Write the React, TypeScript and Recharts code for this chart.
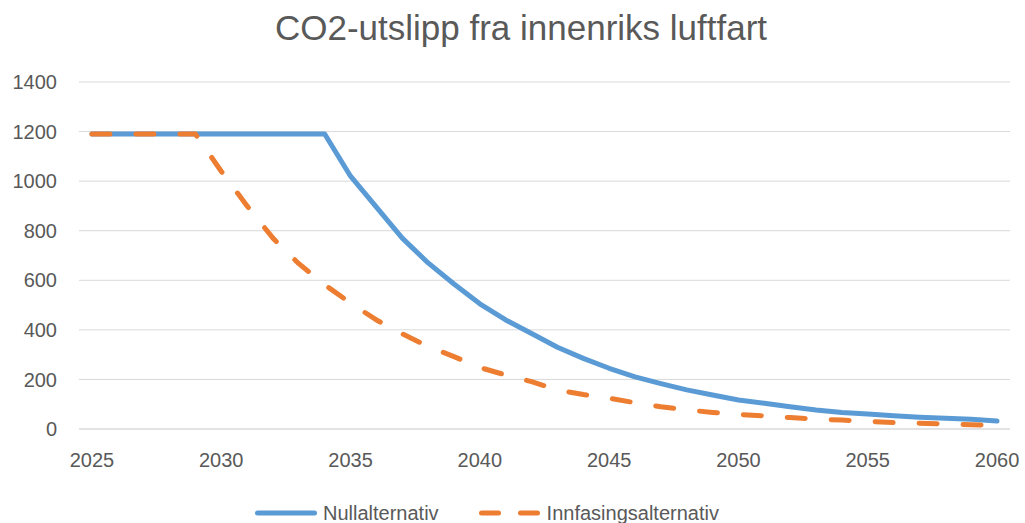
import React from "react";
import { LineChart, Line, XAxis, YAxis, CartesianGrid, Legend } from "recharts";

const years = [
  2025, 2026, 2027, 2028, 2029, 2030, 2031, 2032, 2033, 2034,
  2035, 2036, 2037, 2038, 2039, 2040, 2041, 2042, 2043, 2044,
  2045, 2046, 2047, 2048, 2049, 2050, 2051, 2052, 2053, 2054,
  2055, 2056, 2057, 2058, 2059, 2060,
];

const nullalternativ = [
  1190, 1190, 1190, 1190, 1190, 1190, 1190, 1190, 1190, 1190,
  1020, 895, 770, 670, 585, 505, 440, 385, 330, 285,
  245, 210, 183, 158, 137, 117, 104, 90, 77, 67,
  61, 53, 47, 43, 39, 32,
];

const innfasingsalternativ = [
  1190, 1190, 1190, 1190, 1190, 1040, 900, 770, 667, 582,
  508, 440, 384, 333, 292, 248, 218, 191, 158, 139,
  124, 106, 90, 77, 67, 59, 53, 46, 40, 36,
  31, 26, 23, 21, 17, 15,
];

const xTicks = [2025, 2030, 2035, 2040, 2045, 2050, 2055, 2060];
const yTicks = [0, 200, 400, 600, 800, 1000, 1200, 1400];

const title = "CO2-utslipp fra innenriks luftfart";
const seriesNames = ["Nullalternativ", "Innfasingsalternativ"];

const data = years.map((y, i) => ({
  year: y,
  a: nullalternativ[i],
  b: innfasingsalternativ[i],
}));

const FONT = "'Liberation Sans', Arial, sans-serif";
const TEXT = "#595959";
const BLUE = "#5B9BD5";
const ORANGE = "#ED7D31";
const DASH = "18 26";
const LEGEND_DASH = "17 22";

const LegendContent = (props: any) => {
  const payload = [...(props.payload || [])].sort(
    (p: any, q: any) => seriesNames.indexOf(p.value) - seriesNames.indexOf(q.value)
  );
  return (
    <div
      style={{
        display: "flex",
        alignItems: "center",
        height: 24,
        fontFamily: FONT,
        fontSize: 20,
        color: TEXT,
        paddingLeft: 255,
      }}
    >
      {payload.map((entry: any, idx: number) => {
        const dashed = entry.value === seriesNames[1];
        return (
          <div
            key={entry.value}
            style={{ display: "flex", alignItems: "center", marginRight: idx === 0 ? 40 : 0 }}
          >
            <svg width={62} height={10} style={{ marginRight: 6 }}>
              <line
                x1={2.5}
                y1={5}
                x2={59.5}
                y2={5}
                stroke={entry.color}
                strokeWidth={5}
                strokeLinecap="round"
                strokeDasharray={dashed ? LEGEND_DASH : undefined}
              />
            </svg>
            <span style={{ whiteSpace: "nowrap" }}>{entry.value}</span>
          </div>
        );
      })}
    </div>
  );
};

export default function App() {
  return (
    <div style={{ position: "absolute", left: 0, top: 0, width: 1025, height: 523, background: "#fff" }}>
      <LineChart
        width={1025}
        height={523}
        data={data}
        margin={{ top: 82, right: 15, left: 0, bottom: 64 }}
      >
        <CartesianGrid vertical={false} stroke="#d9d9d9" strokeWidth={1} />
        <XAxis
          dataKey="year"
          type="number"
          domain={[2024.5, 2060.5]}
          ticks={xTicks}
          interval={0}
          height={30}
          axisLine={{ stroke: "#d9d9d9" }}
          tickLine={false}
          tickMargin={18}
          tick={{ fill: TEXT, fontSize: 20, fontFamily: FONT }}
        />
        <YAxis
          domain={[0, 1400]}
          ticks={yTicks}
          width={79}
          axisLine={false}
          tickLine={false}
          tickMargin={16}
          tick={{ fill: TEXT, fontSize: 20, fontFamily: FONT }}
        />
        <Legend
          layout="horizontal"
          verticalAlign="middle"
          align="center"
          content={<LegendContent />}
          wrapperStyle={{ top: 501, left: 0, width: 1025, height: 24 }}
        />
        <Line
          type="linear"
          dataKey="a"
          name={seriesNames[0]}
          stroke={BLUE}
          strokeWidth={5}
          dot={false}
          isAnimationActive={false}
          strokeLinecap="round"
          strokeLinejoin="round"
        />
        <Line
          type="linear"
          dataKey="b"
          name={seriesNames[1]}
          stroke={ORANGE}
          strokeWidth={5}
          strokeDasharray={DASH}
          dot={false}
          isAnimationActive={false}
          strokeLinecap="round"
          strokeLinejoin="round"
        />
      </LineChart>
      <svg
        width={1025}
        height={60}
        style={{ position: "absolute", left: 0, top: 0, pointerEvents: "none" }}
      >
        <text x={521} y={40} textAnchor="middle" fill={TEXT} fontSize={35} fontFamily={FONT}>
          {title}
        </text>
      </svg>
    </div>
  );
}
